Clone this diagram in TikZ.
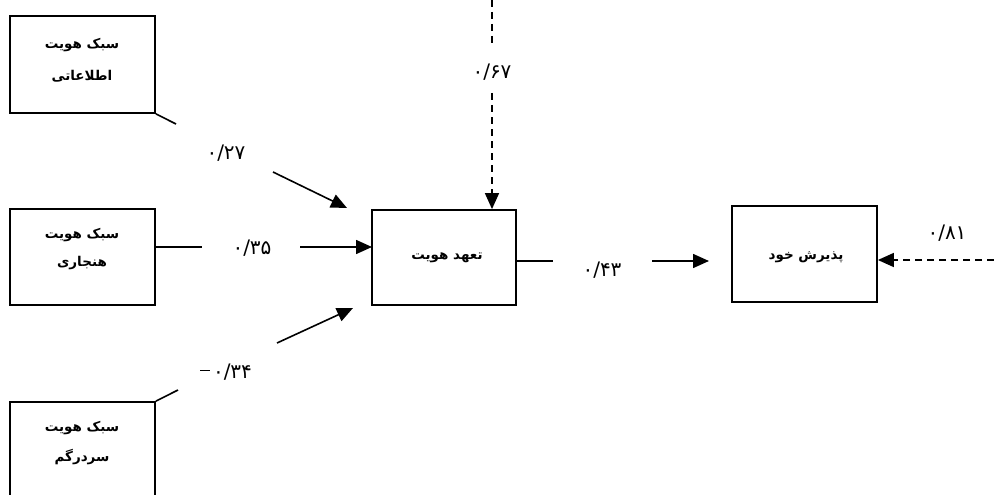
\documentclass[tikz,border=0pt]{standalone}
\usepackage{fontspec}
\usetikzlibrary{arrows.meta}
\TeXXeTstate=1
\newfontfamily\arabicfont[Script=Arabic]{DejaVu Sans}
\begin{document}
\begin{tikzpicture}[x=1pt,y=-1pt,
  boxstyle/.style={draw,line width=1.8pt,inner sep=0pt},
  wordstyle/.style={font=\arabicfont\bfseries\fontsize{13.5}{15}\selectfont,inner sep=0pt},
  numstyle/.style={font=\arabicfont\fontsize{20}{22}\selectfont,inner sep=0pt},
  linkstyle/.style={line width=1.6pt},
  arrowstyle/.style={line width=1.6pt,-{Triangle[length=16pt,width=14pt]}},
  dashstyle/.style={line width=1.6pt,dash pattern=on 7pt off 5pt}]
\useasboundingbox (0,0) rectangle (994,495);
\clip (0,0) rectangle (994,495);
% boxes
\node[boxstyle,minimum width=145pt,minimum height=97pt] (b1) at (82.5,64.5) {};
\node[boxstyle,minimum width=145pt,minimum height=96pt] (b2) at (82.5,257) {};
\node[boxstyle,minimum width=145pt,minimum height=100pt] (b3) at (82.5,452) {};
\node[boxstyle,minimum width=144pt,minimum height=95pt] (c) at (444,257.5) {};
\node[boxstyle,minimum width=145pt,minimum height=96pt] (d) at (804.5,254) {};
% box texts
\node[wordstyle] (t1a) at (82,45) {\beginR سبک هویت\endR};
\node[wordstyle] (t1b) at (82,76) {\beginR اطلاعاتی\endR};
\node[wordstyle] (t2a) at (82,235) {\beginR سبک هویت\endR};
\node[wordstyle] (t2b) at (82,263) {\beginR هنجاری\endR};
\node[wordstyle] (t3a) at (82,428) {\beginR سبک هویت\endR};
\node[wordstyle] (t3b) at (82,457) {\beginR سردرگم\endR};
\node[wordstyle] (tc) at (447,258) {\beginR تعهد هویت\endR};
\node[wordstyle] (td) at (806,257) {\beginR پذیرش خود\endR};
% labels
\node[numstyle] (n1) at (226,153) {۰/۲۷};
\node[numstyle] (n2) at (252,248) {۰/۳۵};
\node[numstyle] (n3) at (226,372) {\rule[7pt]{10pt}{1.3pt}\hspace{3pt}۰/۳۴};
\node[numstyle] (n4) at (492,72) {۰/۶۷};
\node[numstyle] (n5) at (602,270) {۰/۴۳};
\node[numstyle] (n6) at (947,233) {۰/۸۱};
% coordinates
\coordinate (e1) at (176,124);
\coordinate (e2) at (202,247);
\coordinate (e3) at (178,390);
\coordinate (e4) at (553,261);
\coordinate (s1) at (273,172);
\coordinate (f1) at (347,208);
\coordinate (s2) at (300,247);
\coordinate (f2) at (372,247);
\coordinate (s3) at (277,343);
\coordinate (f3) at (353,308);
\coordinate (s4) at (652,261);
\coordinate (f4) at (709,261);
\coordinate (v0) at (492,0);
\coordinate (v1) at (492,43);
\coordinate (v2) at (492,93);
\coordinate (h0) at (994,260);
% stubs
\draw[linkstyle] (b1.south east) -- (e1);
\draw[linkstyle] (b2.east |- e2) -- (e2);
\draw[linkstyle] (b3.north east) -- (e3);
\draw[linkstyle] (c.east |- e4) -- (e4);
% arrows
\draw[arrowstyle] (s1) -- (f1);
\draw[arrowstyle] (s2) -- (f2);
\draw[arrowstyle] (s3) -- (f3);
\draw[arrowstyle] (s4) -- (f4);
\draw[dashstyle] (v0) -- (v1);
\draw[dashstyle,-{Triangle[length=16pt,width=14pt]}] (v2) -- (v2 |- c.north);
\draw[dashstyle,-{Triangle[length=16pt,width=14pt]}] (h0) -- (d.east |- h0);
\end{tikzpicture}
\end{document}
